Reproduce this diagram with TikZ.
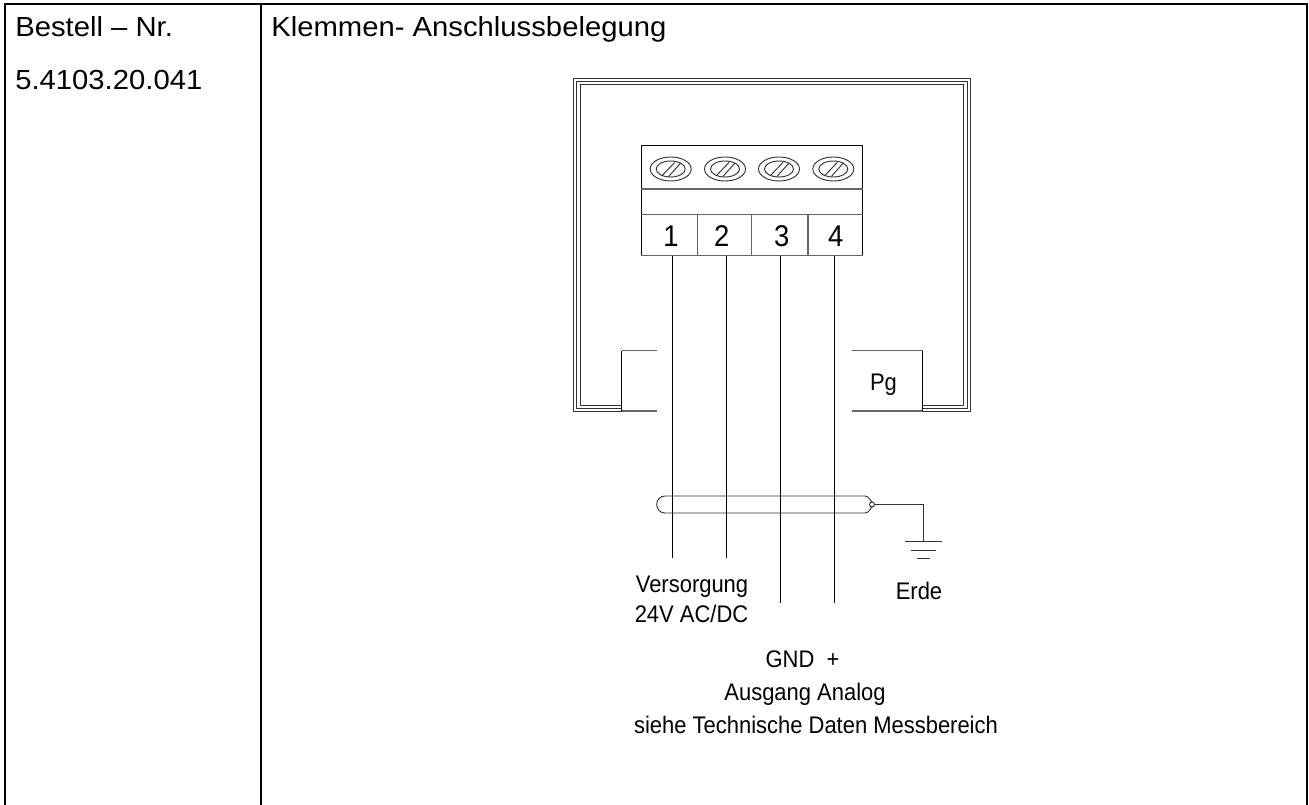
\documentclass[tikz,border=0pt]{standalone}
\usepackage{fontspec}
\setmainfont{Liberation Sans}
\newfontfamily\widefont[FakeStretch=1.06]{Liberation Sans}
\newfontfamily\narrowfont[FakeStretch=0.915]{Liberation Sans}
\tikzset{
  tbl/.style={line width=1.6pt,black},
  thin/.style={line width=0.7pt,black!80},
  heavy/.style={line width=1pt,black!60},
  wire/.style={line width=0.8pt,black},
  big/.style={inner sep=0pt,anchor=base west,font=\widefont\fontsize{20.7}{22}\selectfont},
  small/.style={inner sep=0pt,anchor=base,font=\narrowfont\fontsize{18}{20}\selectfont},
  num/.style={inner sep=0pt,anchor=base,font=\narrowfont\fontsize{22.5}{24}\selectfont},
}
\begin{document}
\begin{tikzpicture}[x=0.75pt,y=-0.75pt]
\useasboundingbox (0,0) rectangle (1309,805);
% table
\draw[tbl] (5.3,805) -- (5.3,4) -- (1307,4) -- (1307,805);
\draw[tbl] (261,4) -- (261,805);
\node[big] (t1) at (15,36.3) {Bestell – Nr.};
\node[big] (t2) at (15,89.3) {5.4103.20.041};
\node[big] (t3) at (271,36.3) {Klemmen- Anschlussbelegung};
% housing
\draw[thin] (621.7,411) -- (573.3,411) -- (573.3,78.5) -- (970.7,78.5) -- (970.7,411) -- (922.7,411);
\draw[thin] (621.7,408) -- (576.7,408) -- (576.7,81.5) -- (967.2,81.5) -- (967.2,408) -- (922.7,408);
\draw[thin] (621.7,405) -- (580.5,405) -- (580.5,84.5) -- (963.8,84.5) -- (963.8,405) -- (922.7,405);
% glands
\draw[heavy] (657,350.7) -- (621.7,350.7);
\draw[heavy] (621.7,411) -- (657,411);
\draw[wire] (621.7,350.7) -- (621.7,411);
\draw[heavy] (852,350.7) -- (922.7,350.7);
\draw[heavy] (922.7,411) -- (852,411);
\draw[wire] (922.7,350.7) -- (922.7,411);
\node[small] (pg) at (883.5,390) {Pg};
% terminal block
\draw[wire] (641.3,145.7) rectangle (862.7,255.7);
\draw[heavy] (641.3,189) -- (862.7,189);
\draw[heavy] (641.3,214.3) -- (862.7,214.3);
\draw[heavy] (641.3,255.7) -- (862.7,255.7);
\foreach \x in {697.3,751.7,808} \draw[heavy] (\x,214.3) -- (\x,255.7);
\foreach \x in {670.7,725,779,833.3}{
  \draw[thin] (\x,169) ellipse [x radius=20.5,y radius=12];
  \draw[thin] (\x,169) ellipse [x radius=14.5,y radius=8];
  \draw[thin] (\x-9,176) -- (\x+4,162.5);
  \draw[thin] (\x-2,176.5) -- (\x+10,163);
}
\node[num] (n1) at (671,246.7) {1};
\node[num] (n2) at (721.7,246.7) {2};
\node[num] (n3) at (781.7,246.7) {3};
\node[num] (n4) at (835.7,246.7) {4};
% wires
\coordinate (w1) at (672.3,255.7);
\coordinate (w2) at (726.3,255.7);
\coordinate (w3) at (780.3,255.7);
\coordinate (w4) at (834.7,255.7);
\draw[wire] (w1) -- ++(0,302);
\draw[wire] (w2) -- ++(0,302);
\draw[wire] (w3) -- ++(0,347);
\draw[wire] (w4) -- ++(0,347);
% cable
\draw[thin] (865,496) -- (665,496) .. controls (660,496) and (656.7,500) .. (656.7,504.5) .. controls (656.7,509) and (660,513) .. (665,513) -- (865,513) .. controls (869,513) and (871,508) .. (873,504.5) .. controls (871,501) and (869,496) .. (865,496);
\draw[thin,fill=white] (872,504.5) circle (2.5);
\draw[thin] (874.5,504.5) -- (923.7,504.5) -- (923.7,541.7);
\draw[thin] (905,541.7) -- (941.7,541.7);
\draw[thin] (911,550) -- (936,550);
\draw[thin] (917,558) -- (930,558);
% labels
\node[small] (l1) at (692,592) {Versorgung};
\node[small] (l2) at (691.5,622) {24V AC/DC};
\node[small] (l3) at (919,599) {Erde};
\node[small] (l4) at (802.5,667) {GND\ \ +};
\node[small] (l5) at (805,700) {Ausgang Analog};
\node[small] (l6) at (816,733) {siehe Technische Daten Messbereich};
\end{tikzpicture}
\end{document}
